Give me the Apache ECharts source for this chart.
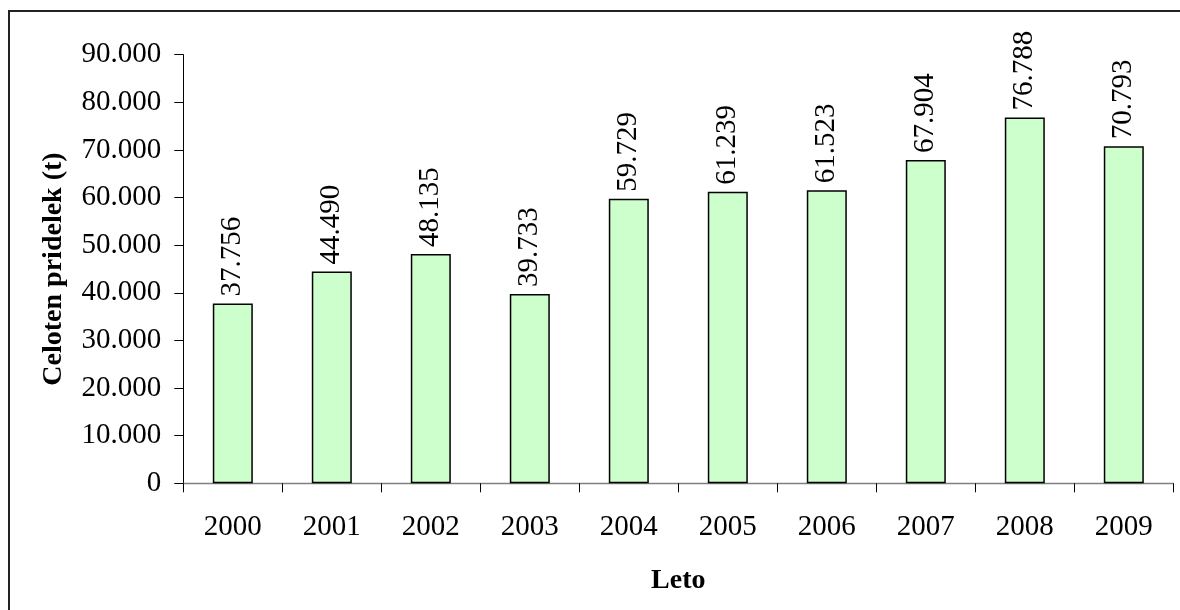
<!DOCTYPE html>
<html>
<head>
<meta charset="utf-8">
<title>Celoten pridelek</title>
<script src="https://cdn.jsdelivr.net/npm/echarts@6/dist/echarts.min.js"></script>
<style>
  html, body { margin: 0; padding: 0; background: #ffffff; }
  #chart { width: 1180px; height: 610px; }
</style>
</head>
<body>
<div id="chart"></div>
<script>
// Years and total harvest in tonnes
const years = ['2000', '2001', '2002', '2003', '2004', '2005', '2006', '2007', '2008', '2009'];
const harvest = [37756, 44490, 48135, 39733, 59729, 61239, 61523, 67904, 76788, 70793];

const FONT = '"Liberation Serif", "Times New Roman", serif';

// Thousands separated by a dot: 37756 -> "37.756"
function dotThousands(v) {
  return String(Math.round(v)).replace(/\B(?=(\d{3})+(?!\d))/g, '.');
}

const chart = echarts.init(document.getElementById('chart'), null, { renderer: 'canvas' });

chart.setOption({
  animation: false,
  backgroundColor: '#ffffff',
  textStyle: { fontFamily: FONT },
  graphic: [{
    type: 'rect',
    silent: true,
    shape: { x: 9, y: 11, width: 1200, height: 700 },
    style: { fill: 'none', stroke: '#222222', lineWidth: 2 }
  }],
  grid: {
    left: 183.3,
    right: 6.7,
    top: 54.7,
    bottom: 126.7,
    containLabel: false
  },
  xAxis: {
    type: 'category',
    data: years,
    name: 'Leto',
    nameLocation: 'middle',
    nameGap: 83,
    nameTextStyle: { fontFamily: FONT, fontSize: 28, fontWeight: 'bold', color: '#000' },
    axisLine: { lineStyle: { color: '#808080', width: 1.3 } },
    axisTick: { show: true, length: 9, alignWithLabel: false, lineStyle: { color: '#000', width: 1 } },
    axisLabel: { fontFamily: FONT, fontSize: 29, color: '#000', margin: 30 },
    splitLine: { show: false }
  },
  yAxis: {
    type: 'value',
    min: 0,
    max: 90000,
    interval: 10000,
    name: 'Celoten pridelek (t)',
    nameLocation: 'middle',
    nameRotate: 90,
    nameGap: 116,
    nameTextStyle: { fontFamily: FONT, fontSize: 28, fontWeight: 'bold', color: '#000' },
    axisLine: { show: true, lineStyle: { color: '#000', width: 1 } },
    axisTick: { show: true, length: 9, lineStyle: { color: '#000', width: 1 } },
    axisLabel: { fontFamily: FONT, fontSize: 29, color: '#000', margin: 22, formatter: dotThousands },
    splitLine: { show: false }
  },
  series: [{
    type: 'bar',
    data: harvest,
    barWidth: 40,
    itemStyle: { color: '#CCFFCC', borderColor: '#000', borderWidth: 1.5 },
    label: {
      show: true,
      position: 'top',
      rotate: 90,
      align: 'left',
      verticalAlign: 'middle',
      distance: 7,
      fontFamily: FONT,
      fontSize: 29,
      color: '#000',
      formatter: p => dotThousands(p.value)
    }
  }]
});
</script>
</body>
</html>
